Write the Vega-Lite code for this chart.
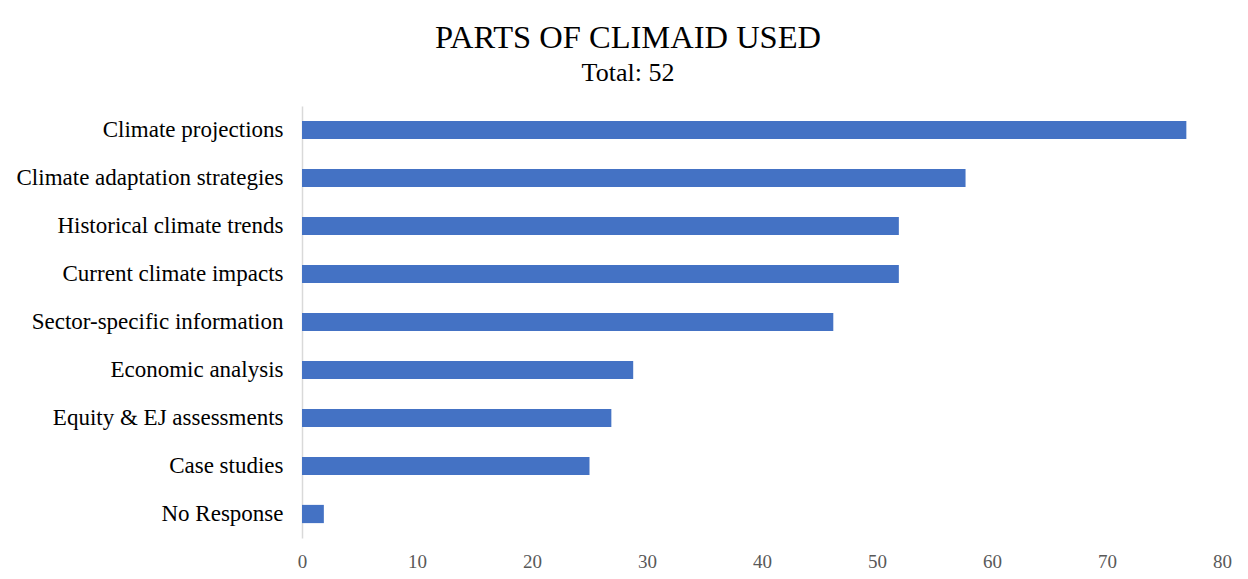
{
  "$schema": "https://vega.github.io/schema/vega-lite/v6.json",
  "autosize": "none",
  "width": 920,
  "height": 432,
  "padding": {"left": 302, "top": 106, "right": 26, "bottom": 41},
  "background": "white",
  "title": {
    "text": "PARTS OF CLIMAID USED",
    "subtitle": "Total: 52",
    "anchor": "middle",
    "dx": -134,
    "font": "Liberation Serif",
    "fontSize": 32.5,
    "fontWeight": "normal",
    "color": "black",
    "subtitleFont": "Liberation Serif",
    "subtitleFontSize": 26,
    "subtitleColor": "black",
    "subtitlePadding": 6,
    "offset": 20
  },
  "data": {
    "values": [
      {"part": "Climate projections", "pct": 76.9},
      {"part": "Climate adaptation strategies", "pct": 57.7},
      {"part": "Historical climate trends", "pct": 51.9},
      {"part": "Current climate impacts", "pct": 51.9},
      {"part": "Sector-specific information", "pct": 46.2},
      {"part": "Economic analysis", "pct": 28.8},
      {"part": "Equity & EJ assessments", "pct": 26.9},
      {"part": "Case studies", "pct": 25.0},
      {"part": "No Response", "pct": 1.9}
    ]
  },
  "mark": {"type": "bar", "color": "#4472C4"},
  "encoding": {
    "y": {
      "field": "part",
      "type": "nominal",
      "sort": null,
      "scale": {"paddingInner": 0.62, "paddingOuter": 0.31},
      "axis": {
        "title": null,
        "ticks": false,
        "domainColor": "#d9d9d9",
        "domainWidth": 1.5,
        "labelFont": "Liberation Serif",
        "labelFontSize": 23,
        "labelColor": "black",
        "labelPadding": 19,
        "labelLimit": 400
      }
    },
    "x": {
      "field": "pct",
      "type": "quantitative",
      "scale": {"domain": [0, 80]},
      "axis": {
        "title": null,
        "ticks": false,
        "domain": false,
        "grid": false,
        "labelFlush": false,
        "values": [0, 10, 20, 30, 40, 50, 60, 70, 80],
        "labelFont": "Liberation Serif",
        "labelFontSize": 19,
        "labelColor": "#595959",
        "labelPadding": 14
      }
    }
  },
  "config": {"view": {"stroke": null}}
}
